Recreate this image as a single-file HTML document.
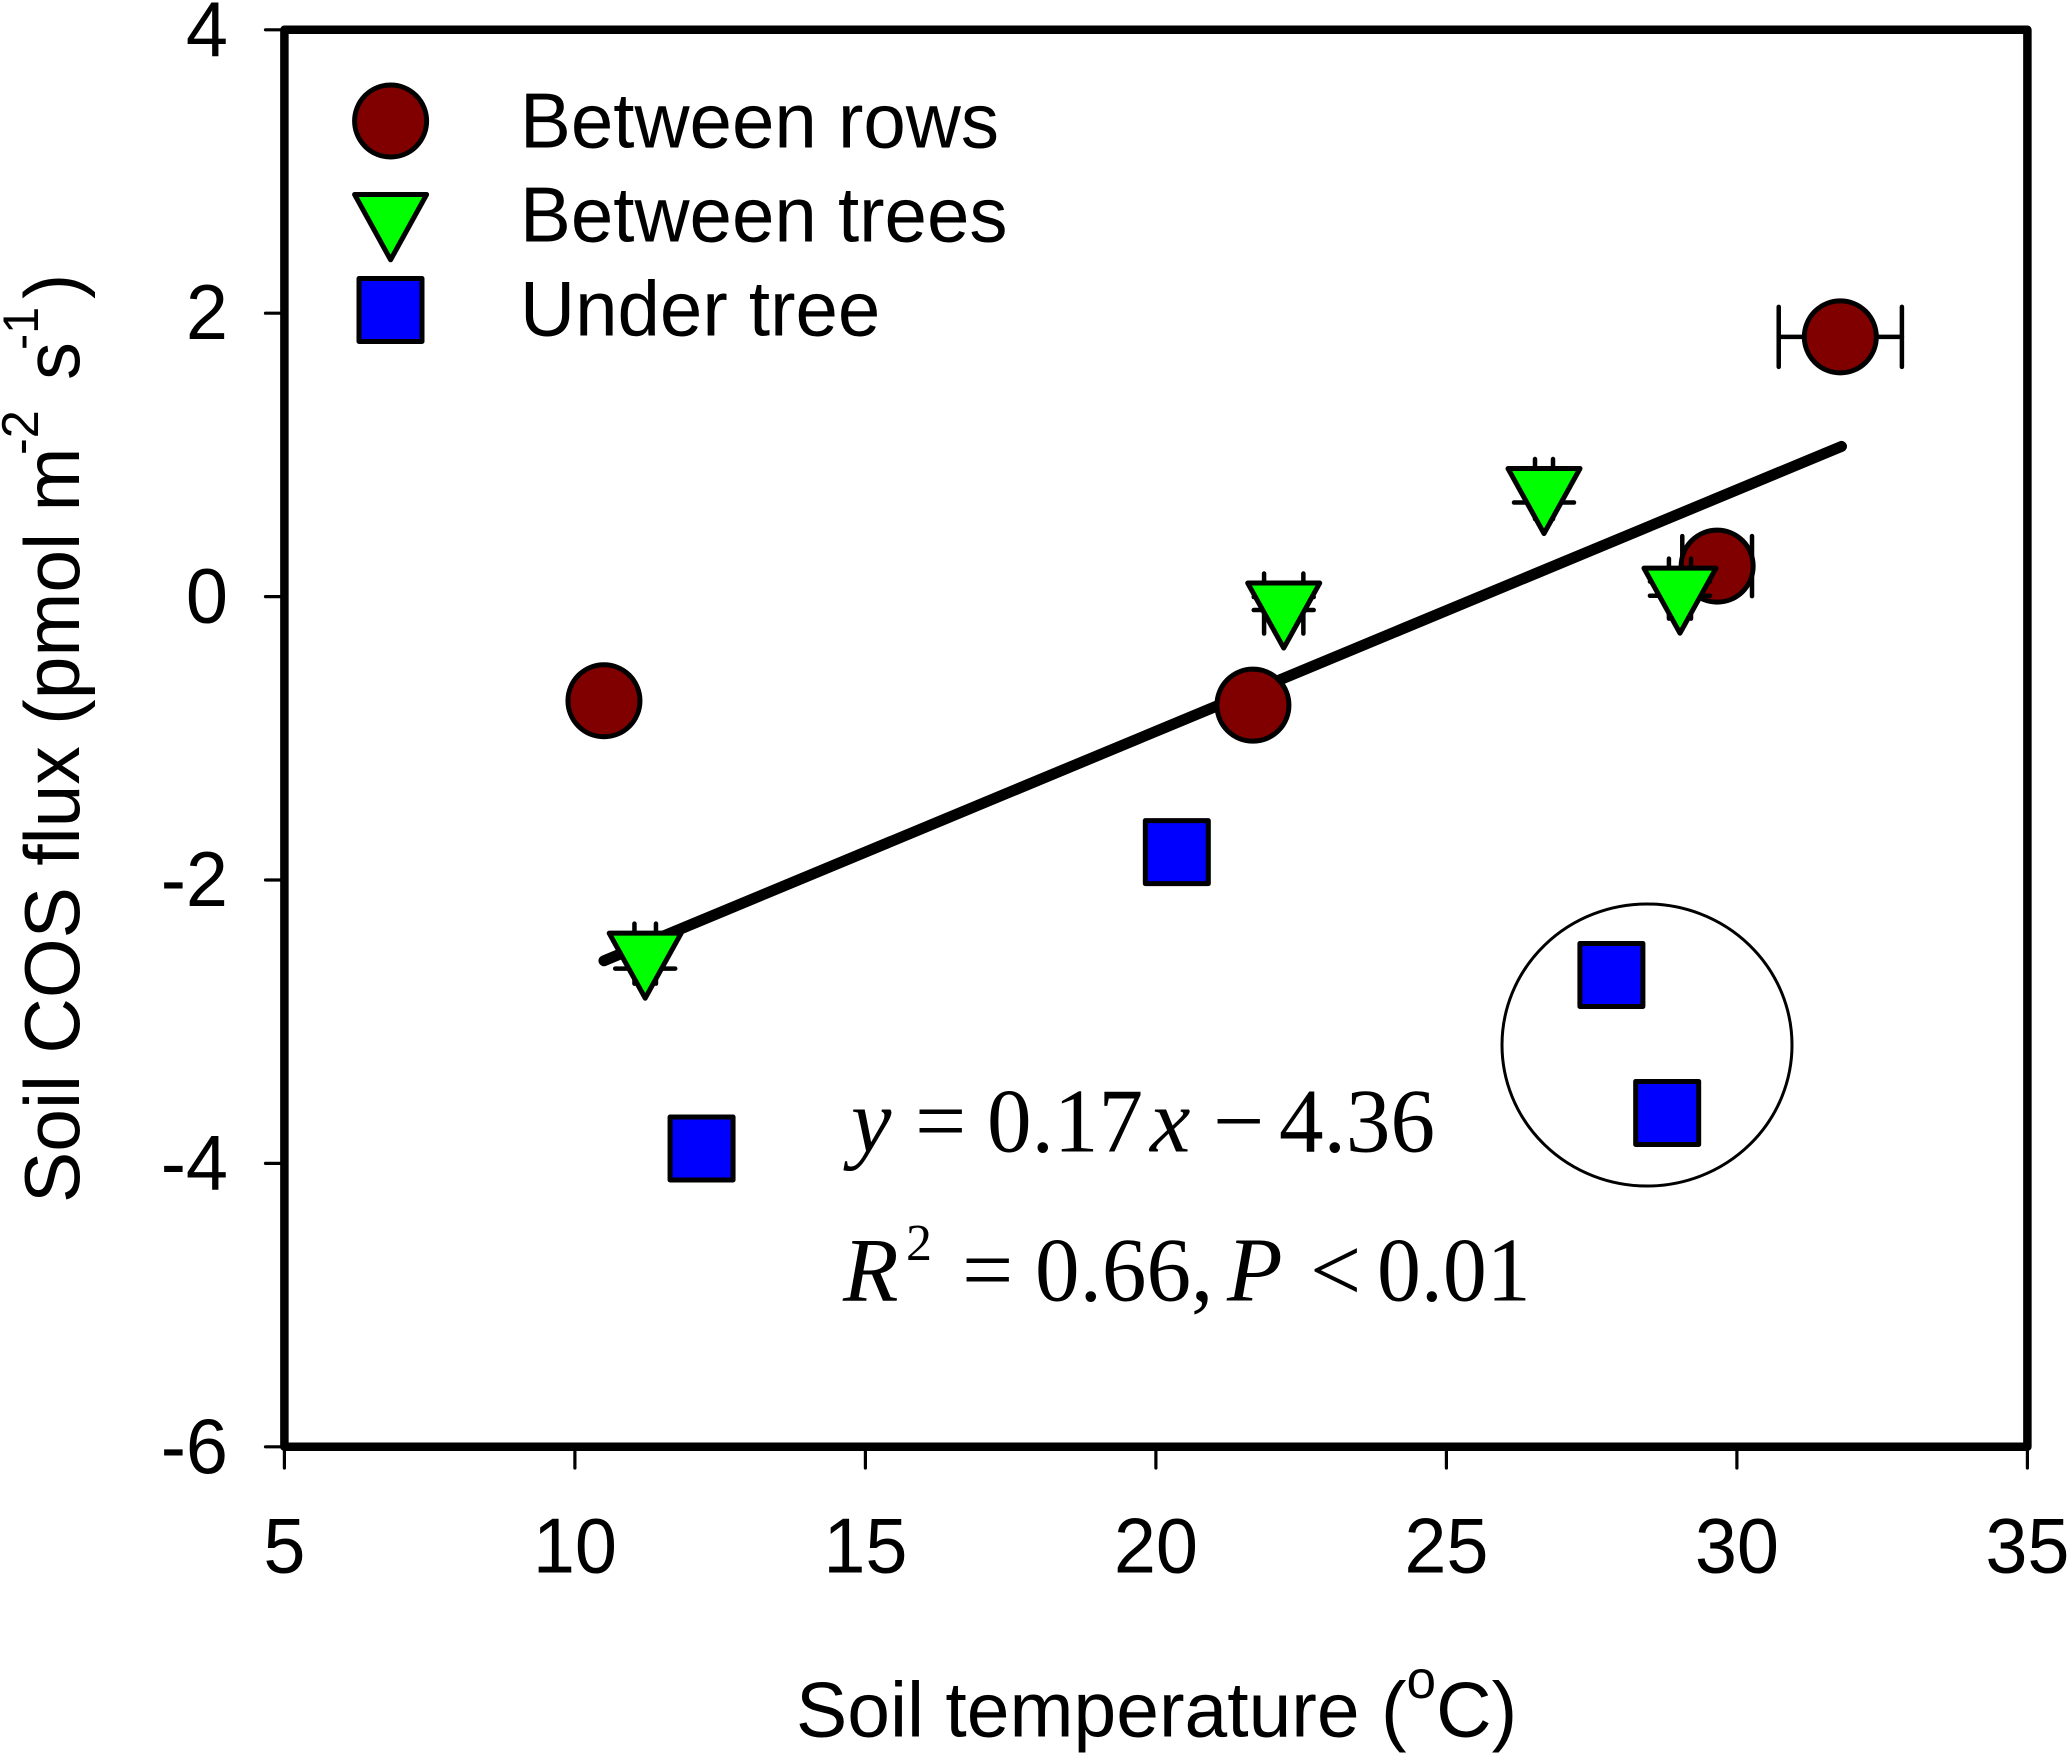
<!DOCTYPE html>
<html lang="en">
<head>
<meta charset="utf-8">
<title>Soil COS flux vs soil temperature</title>
<style>
html,body{margin:0;padding:0;background:#fff;width:2067px;height:1753px;overflow:hidden}
svg{display:block}
text{fill:#000}
.sans{font-family:"Liberation Sans",Arial,sans-serif;font-size:78px}
.serif{font-family:"Liberation Serif","Times New Roman",serif;font-size:91px}
.it{font-style:italic}
</style>
</head>
<body>
<svg id="chart" xmlns="http://www.w3.org/2000/svg" width="2067" height="1753" viewBox="0 0 2067 1753">
  <rect x="0" y="0" width="2067" height="1753" fill="#fff"/>
  <g id="ticks"></g>
  <g id="tick-labels"></g>
  <g id="marks"></g>
  <rect x="284.4" y="29.8" width="1743" height="1417" fill="none" stroke="#000" stroke-width="8.5" stroke-linejoin="round"/>

  <text class="sans" transform="translate(796,1736.7) scale(.985,1)">Soil temperature (<tspan font-size="54" dy="-38.5">o</tspan><tspan dy="38.5">C)</tspan></text>

  <g transform="translate(79,1200) rotate(-90)">
    <text class="sans" transform="translate(-3,0) scale(.985,1)">Soil COS flux (pmol m</text>
    <text class="sans" style="font-size:52px" transform="translate(745,-41) scale(.97,1)">-2</text>
    <text class="sans" transform="translate(820,0) scale(.97,1)">s</text>
    <text class="sans" style="font-size:50px" transform="translate(850,-41) scale(.97,1)">-1</text>
    <text class="sans" transform="translate(901,0) scale(.97,1)">)</text>
  </g>

  <g>
    <circle cx="390.6" cy="121" r="36" fill="#800000" stroke="#000" stroke-width="5"/>
    <path d="M354.6 194.5H426.6L390.6 259.8Z" fill="#00ff00" stroke="#000" stroke-width="5" stroke-linejoin="round"/>
    <rect x="359" y="278.5" width="63" height="63" fill="#0000ff" stroke="#000" stroke-width="5" stroke-linejoin="round"/>
    <text class="sans" transform="translate(520,147.3) scale(.978,1)">Between rows</text>
    <text class="sans" transform="translate(520,241.7) scale(.978,1)">Between trees</text>
    <text class="sans" transform="translate(520,335.5) scale(.978,1)">Under tree</text>
  </g>

  <ellipse cx="1647" cy="1045" rx="145" ry="141" fill="none" stroke="#000" stroke-width="3"/>

  <g>
    <text class="serif it" x="851" y="1151.7">y</text>
    <text class="serif" x="915" y="1151.7">=</text>
    <text class="serif" transform="translate(987,1151.7) scale(.98,1)">0.17</text>
    <text class="serif it" x="1150" y="1151.7">x</text>
    <text class="serif" x="1213" y="1151.7">−</text>
    <text class="serif" transform="translate(1279,1151.7) scale(.98,1)">4.36</text>
  </g>
  <g>
    <text class="serif it" x="843" y="1300.7">R</text>
    <text class="serif" style="font-size:52px" x="906" y="1260">2</text>
    <text class="serif" x="962" y="1300.7">=</text>
    <text class="serif" transform="translate(1035,1300.7) scale(.98,1)">0.66,</text>
    <text class="serif it" x="1227" y="1300.7">P</text>
    <text class="serif" x="1310" y="1300.7">&lt;</text>
    <text class="serif" transform="translate(1377,1300.7) scale(.965,1)">0.01</text>
  </g>
</svg>
<script>
const xTicks = [5, 10, 15, 20, 25, 30, 35];
const yTicks = [-6, -4, -2, 0, 2, 4];
const xTickLabels = ['5', '10', '15', '20', '25', '30', '35'];
const yTickLabels = ['-6', '-4', '-2', '0', '2', '4'];

const fitX = [10.5, 31.8];
const fitY = [-2.57, 1.06];

const rowsX = [10.5, 21.67, 29.66, 31.78];
const rowsY = [-0.735, -0.766, 0.215, 1.833];
const rowsXErr = [0.2, 0.2, 0.6, 1.06];
const rowsYErr = [0.1, 0.1, 0.1, 0.1];

const treesX = [11.21, 22.2, 26.68, 29.02];
const treesY = [-2.52, -0.049, 0.759, 0.056];
const treesXErr = [0.185, 0.338, 0.155, 0.19];
const treesYErr = [0.105, 0.046, 0.095, 0.05];

const underX = [12.18, 20.36, 27.84, 28.8];
const underY = [-3.895, -1.803, -2.67, -3.644];

const SVG_NS = 'http://www.w3.org/2000/svg';
const ticksG = document.getElementById('ticks');
const labelsG = document.getElementById('tick-labels');
const marksG = document.getElementById('marks');

function xScale(v) { return 284.4 + (v - 5) * 58.1; }
function yScale(v) { return 29.8 + (4 - v) * 141.7; }

function make(tag, attrs, parent) {
  const el = document.createElementNS(SVG_NS, tag);
  Object.keys(attrs).forEach(function (k) { el.setAttribute(k, attrs[k]); });
  parent.appendChild(el);
  return el;
}

xTicks.forEach(function (v, i) {
  const t = make('line', { x1: xScale(v), x2: xScale(v), y1: 1446, y2: 1468, stroke: '#000', 'stroke-width': 3.2, 'stroke-linecap': 'round' }, ticksG);
  
  
  const l = make('text', { class: 'sans', 'text-anchor': 'middle', transform: 'translate(' + xScale(v) + ',1572.7) scale(.97,1)' }, labelsG);
  l.textContent = xTickLabels[i];
  
  
});

yTicks.forEach(function (v, i) {
  const t = make('line', { x1: 265.5, x2: 285, y1: yScale(v), y2: yScale(v), stroke: '#000', 'stroke-width': 3.2, 'stroke-linecap': 'round' }, ticksG);
  
  
  const l = make('text', { class: 'sans', 'text-anchor': 'end', transform: 'translate(228,' + (yScale(v) + 26) + ') scale(.97,1)' }, labelsG);
  l.textContent = yTickLabels[i];
  
  
});

function drawErrorBars(cx, cy, dx, dy, parent) {
  const capHalf = 30;
  const segs = [
    [cx - dx, cy, cx + dx, cy],
    [cx, cy - dy, cx, cy + dy],
    [cx - dx, cy - capHalf, cx - dx, cy + capHalf],
    [cx + dx, cy - capHalf, cx + dx, cy + capHalf],
    [cx - capHalf, cy - dy, cx + capHalf, cy - dy],
    [cx - capHalf, cy + dy, cx + capHalf, cy + dy]
  ];
  segs.forEach(function (s) {
    const e = make('line', { x1: s[0], y1: s[1], x2: s[2], y2: s[3], stroke: '#000', 'stroke-width': 4.5, 'stroke-linecap': 'round' }, parent);
    
    
  });
}

const fit = make('line', { x1: xScale(fitX[0]), y1: yScale(fitY[0]), x2: xScale(fitX[1]), y2: yScale(fitY[1]), stroke: '#000', 'stroke-width': 11, 'stroke-linecap': 'round' }, marksG);



rowsX.forEach(function (v, i) {
  const cx = xScale(v), cy = yScale(rowsY[i]);
  drawErrorBars(cx, cy, rowsXErr[i] * 58.1, rowsYErr[i] * 141.7, marksG);
  const m = make('circle', { cx: cx, cy: cy, r: 36, fill: '#800000', stroke: '#000', 'stroke-width': 5 }, marksG);
  
  
});

treesX.forEach(function (v, i) {
  const cx = xScale(v), cy = yScale(treesY[i]);
  drawErrorBars(cx, cy, treesXErr[i] * 58.1, treesYErr[i] * 141.7, marksG);
  const d = 'M' + (cx - 36) + ' ' + (cy - 20.5) + 'H' + (cx + 36) + 'L' + cx + ' ' + (cy + 44.5) + 'Z';
  const m = make('path', { d: d, fill: '#00ff00', stroke: '#000', 'stroke-width': 5, 'stroke-linejoin': 'round' }, marksG);
  
  
});

underX.forEach(function (v, i) {
  const cx = xScale(v), cy = yScale(underY[i]);
  const m = make('rect', { x: cx - 31.5, y: cy - 31.5, width: 63, height: 63, fill: '#0000ff', stroke: '#000', 'stroke-width': 5, 'stroke-linejoin': 'round' }, marksG);
  
  
});
</script>
</body>
</html>
